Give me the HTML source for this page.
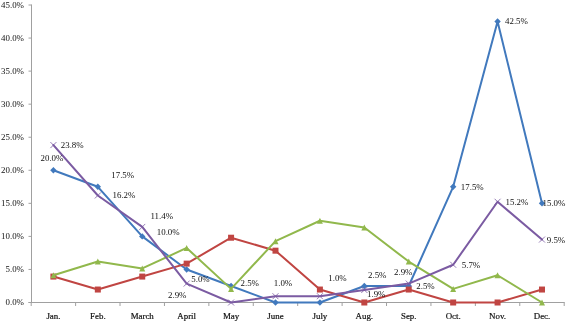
<!DOCTYPE html>
<html><head><meta charset="utf-8"><title>Chart</title>
<style>
html,body{margin:0;padding:0;background:#fff;}
body{width:567px;height:322px;overflow:hidden;}
svg{display:block;}
text{font-family:"Liberation Serif","Times New Roman",serif;font-size:8.9px;fill:#111;}
</style></head><body>
<svg width="567" height="322" viewBox="0 0 567 322">
<rect width="567" height="322" fill="#fff"/>

<g stroke="#a0a0a0" stroke-width="1" fill="none" shape-rendering="auto">
<line x1="31.5" y1="4.5" x2="31.5" y2="303.0"/>
<line x1="28.5" y1="302.5" x2="564.7" y2="302.5"/>
<line x1="28.5" y1="302.50" x2="31.5" y2="302.50"/>
<line x1="28.5" y1="269.44" x2="31.5" y2="269.44"/>
<line x1="28.5" y1="236.39" x2="31.5" y2="236.39"/>
<line x1="28.5" y1="203.33" x2="31.5" y2="203.33"/>
<line x1="28.5" y1="170.28" x2="31.5" y2="170.28"/>
<line x1="28.5" y1="137.22" x2="31.5" y2="137.22"/>
<line x1="28.5" y1="104.17" x2="31.5" y2="104.17"/>
<line x1="28.5" y1="71.11" x2="31.5" y2="71.11"/>
<line x1="28.5" y1="38.06" x2="31.5" y2="38.06"/>
<line x1="28.5" y1="5.00" x2="31.5" y2="5.00"/>
<line x1="31.20" y1="302.5" x2="31.20" y2="306.0"/>
<line x1="75.62" y1="302.5" x2="75.62" y2="306.0"/>
<line x1="120.03" y1="302.5" x2="120.03" y2="306.0"/>
<line x1="164.45" y1="302.5" x2="164.45" y2="306.0"/>
<line x1="208.87" y1="302.5" x2="208.87" y2="306.0"/>
<line x1="253.28" y1="302.5" x2="253.28" y2="306.0"/>
<line x1="297.70" y1="302.5" x2="297.70" y2="306.0"/>
<line x1="342.12" y1="302.5" x2="342.12" y2="306.0"/>
<line x1="386.53" y1="302.5" x2="386.53" y2="306.0"/>
<line x1="430.95" y1="302.5" x2="430.95" y2="306.0"/>
<line x1="475.37" y1="302.5" x2="475.37" y2="306.0"/>
<line x1="519.78" y1="302.5" x2="519.78" y2="306.0"/>
<line x1="564.20" y1="302.5" x2="564.20" y2="306.0"/>
</g>
<g text-anchor="end" style="font-family:'Liberation Sans',Arial,sans-serif;font-size:8px">
<text x="24" y="305.40">0.0%</text>
<text x="24" y="272.34">5.0%</text>
<text x="24" y="239.29">10.0%</text>
<text x="24" y="206.23">15.0%</text>
<text x="24" y="173.18">20.0%</text>
<text x="24" y="140.12">25.0%</text>
<text x="24" y="107.07">30.0%</text>
<text x="24" y="74.01">35.0%</text>
<text x="24" y="40.96">40.0%</text>
<text x="24" y="7.90">45.0%</text>
</g>
<g text-anchor="middle" stroke="#111" stroke-width="0.2">
<text x="53.41" y="318.8">Jan.</text>
<text x="97.83" y="318.8">Feb.</text>
<text x="142.24" y="318.8">March</text>
<text x="186.66" y="318.8">April</text>
<text x="231.07" y="318.8">May</text>
<text x="275.49" y="318.8">June</text>
<text x="319.91" y="318.8">July</text>
<text x="364.32" y="318.8">Aug.</text>
<text x="408.74" y="318.8">Sep.</text>
<text x="453.16" y="318.8">Oct.</text>
<text x="497.57" y="318.8">Nov.</text>
<text x="541.99" y="318.8">Dec.</text>
</g>
<polyline points="53.41,170.28 97.83,186.81 142.24,236.39 186.66,269.44 231.07,285.97 275.49,302.50 319.91,302.50 364.32,285.97 408.74,285.97 453.16,186.81 497.57,21.53 541.99,203.33" fill="none" stroke="#4179bd" stroke-width="2" stroke-linejoin="round" stroke-linecap="round"/>
<path d="M53.41 167.08L56.61 170.28L53.41 173.48L50.21 170.28Z" fill="#4179bd"/>
<path d="M97.83 183.61L101.03 186.81L97.83 190.01L94.62 186.81Z" fill="#4179bd"/>
<path d="M142.24 233.19L145.44 236.39L142.24 239.59L139.04 236.39Z" fill="#4179bd"/>
<path d="M186.66 266.24L189.86 269.44L186.66 272.64L183.46 269.44Z" fill="#4179bd"/>
<path d="M231.07 282.77L234.27 285.97L231.07 289.17L227.88 285.97Z" fill="#4179bd"/>
<path d="M275.49 299.30L278.69 302.50L275.49 305.70L272.29 302.50Z" fill="#4179bd"/>
<path d="M319.91 299.30L323.11 302.50L319.91 305.70L316.71 302.50Z" fill="#4179bd"/>
<path d="M364.32 282.77L367.52 285.97L364.32 289.17L361.12 285.97Z" fill="#4179bd"/>
<path d="M408.74 282.77L411.94 285.97L408.74 289.17L405.54 285.97Z" fill="#4179bd"/>
<path d="M453.16 183.61L456.36 186.81L453.16 190.01L449.96 186.81Z" fill="#4179bd"/>
<path d="M497.57 18.33L500.77 21.53L497.57 24.73L494.38 21.53Z" fill="#4179bd"/>
<path d="M541.99 200.13L545.19 203.33L541.99 206.53L538.79 203.33Z" fill="#4179bd"/>
<polyline points="53.41,276.58 97.83,289.54 142.24,276.58 186.66,263.63 231.07,237.71 275.49,250.67 319.91,289.54 364.32,302.50 408.74,289.54 453.16,302.50 497.57,302.50 541.99,289.54" fill="none" stroke="#c04542" stroke-width="2" stroke-linejoin="round" stroke-linecap="round"/>
<rect x="50.41" y="273.58" width="6" height="6" fill="#c04542"/>
<rect x="94.83" y="286.54" width="6" height="6" fill="#c04542"/>
<rect x="139.24" y="273.58" width="6" height="6" fill="#c04542"/>
<rect x="183.66" y="260.63" width="6" height="6" fill="#c04542"/>
<rect x="228.07" y="234.71" width="6" height="6" fill="#c04542"/>
<rect x="272.49" y="247.67" width="6" height="6" fill="#c04542"/>
<rect x="316.91" y="286.54" width="6" height="6" fill="#c04542"/>
<rect x="361.32" y="299.50" width="6" height="6" fill="#c04542"/>
<rect x="405.74" y="286.54" width="6" height="6" fill="#c04542"/>
<rect x="450.16" y="299.50" width="6" height="6" fill="#c04542"/>
<rect x="494.57" y="299.50" width="6" height="6" fill="#c04542"/>
<rect x="538.99" y="286.54" width="6" height="6" fill="#c04542"/>
<polyline points="53.41,275.26 97.83,261.58 142.24,268.45 186.66,247.96 231.07,288.88 275.49,241.15 319.91,220.72 364.32,227.53 408.74,261.58 453.16,288.88 497.57,275.26 541.99,302.50" fill="none" stroke="#91b84c" stroke-width="2" stroke-linejoin="round" stroke-linecap="round"/>
<path d="M53.41 272.26L56.41 278.26L50.41 278.26Z" fill="#91b84c"/>
<path d="M97.83 258.58L100.83 264.58L94.83 264.58Z" fill="#91b84c"/>
<path d="M142.24 265.45L145.24 271.45L139.24 271.45Z" fill="#91b84c"/>
<path d="M186.66 244.96L189.66 250.96L183.66 250.96Z" fill="#91b84c"/>
<path d="M231.07 285.88L234.07 291.88L228.07 291.88Z" fill="#91b84c"/>
<path d="M275.49 238.15L278.49 244.15L272.49 244.15Z" fill="#91b84c"/>
<path d="M319.91 217.72L322.91 223.72L316.91 223.72Z" fill="#91b84c"/>
<path d="M364.32 224.53L367.32 230.53L361.32 230.53Z" fill="#91b84c"/>
<path d="M408.74 258.58L411.74 264.58L405.74 264.58Z" fill="#91b84c"/>
<path d="M453.16 285.88L456.16 291.88L450.16 291.88Z" fill="#91b84c"/>
<path d="M497.57 272.26L500.57 278.26L494.57 278.26Z" fill="#91b84c"/>
<path d="M541.99 299.50L544.99 305.50L538.99 305.50Z" fill="#91b84c"/>
<polyline points="53.41,145.09 97.83,195.47 142.24,226.94 186.66,283.59 231.07,302.50 275.49,296.22 319.91,296.22 364.32,289.94 408.74,283.59 453.16,264.75 497.57,201.75 541.99,239.56" fill="none" stroke="#7b5ba2" stroke-width="2" stroke-linejoin="round" stroke-linecap="round"/>
<path d="M50.41 142.09L56.41 148.09M56.41 142.09L50.41 148.09" stroke="#7b5ba2" stroke-width="0.8" fill="none"/>
<path d="M94.83 192.47L100.83 198.47M100.83 192.47L94.83 198.47" stroke="#7b5ba2" stroke-width="0.8" fill="none"/>
<path d="M139.24 223.94L145.24 229.94M145.24 223.94L139.24 229.94" stroke="#7b5ba2" stroke-width="0.8" fill="none"/>
<path d="M183.66 280.59L189.66 286.59M189.66 280.59L183.66 286.59" stroke="#7b5ba2" stroke-width="0.8" fill="none"/>
<path d="M228.07 299.50L234.07 305.50M234.07 299.50L228.07 305.50" stroke="#7b5ba2" stroke-width="0.8" fill="none"/>
<path d="M272.49 293.22L278.49 299.22M278.49 293.22L272.49 299.22" stroke="#7b5ba2" stroke-width="0.8" fill="none"/>
<path d="M316.91 293.22L322.91 299.22M322.91 293.22L316.91 299.22" stroke="#7b5ba2" stroke-width="0.8" fill="none"/>
<path d="M361.32 286.94L367.32 292.94M367.32 286.94L361.32 292.94" stroke="#7b5ba2" stroke-width="0.8" fill="none"/>
<path d="M405.74 280.59L411.74 286.59M411.74 280.59L405.74 286.59" stroke="#7b5ba2" stroke-width="0.8" fill="none"/>
<path d="M450.16 261.75L456.16 267.75M456.16 261.75L450.16 267.75" stroke="#7b5ba2" stroke-width="0.8" fill="none"/>
<path d="M494.57 198.75L500.57 204.75M500.57 198.75L494.57 204.75" stroke="#7b5ba2" stroke-width="0.8" fill="none"/>
<path d="M538.99 236.56L544.99 242.56M544.99 236.56L538.99 242.56" stroke="#7b5ba2" stroke-width="0.8" fill="none"/>
<text x="60.75" y="148.00">23.8%</text>
<text x="40.5" y="160.50">20.0%</text>
<text x="111.25" y="178.00">17.5%</text>
<text x="112.5" y="198.00">16.2%</text>
<text x="150.5" y="218.50">11.4%</text>
<text x="156.75" y="234.50">10.0%</text>
<text x="191.25" y="281.50">5.0%</text>
<text x="168" y="298.00">2.9%</text>
<text x="240.5" y="285.50">2.5%</text>
<text x="273.75" y="285.50">1.0%</text>
<text x="328.25" y="281.25">1.0%</text>
<text x="368" y="278.00">2.5%</text>
<text x="367" y="296.75">1.9%</text>
<text x="394" y="275.40">2.9%</text>
<text x="416.25" y="289.25">2.5%</text>
<text x="460.8" y="189.70">17.5%</text>
<text x="461.75" y="267.50">5.7%</text>
<text x="505" y="24.00">42.5%</text>
<text x="505.5" y="204.75">15.2%</text>
<text x="542.5" y="206.00">15.0%</text>
<text x="546.75" y="242.50">9.5%</text>
</svg></body></html>
